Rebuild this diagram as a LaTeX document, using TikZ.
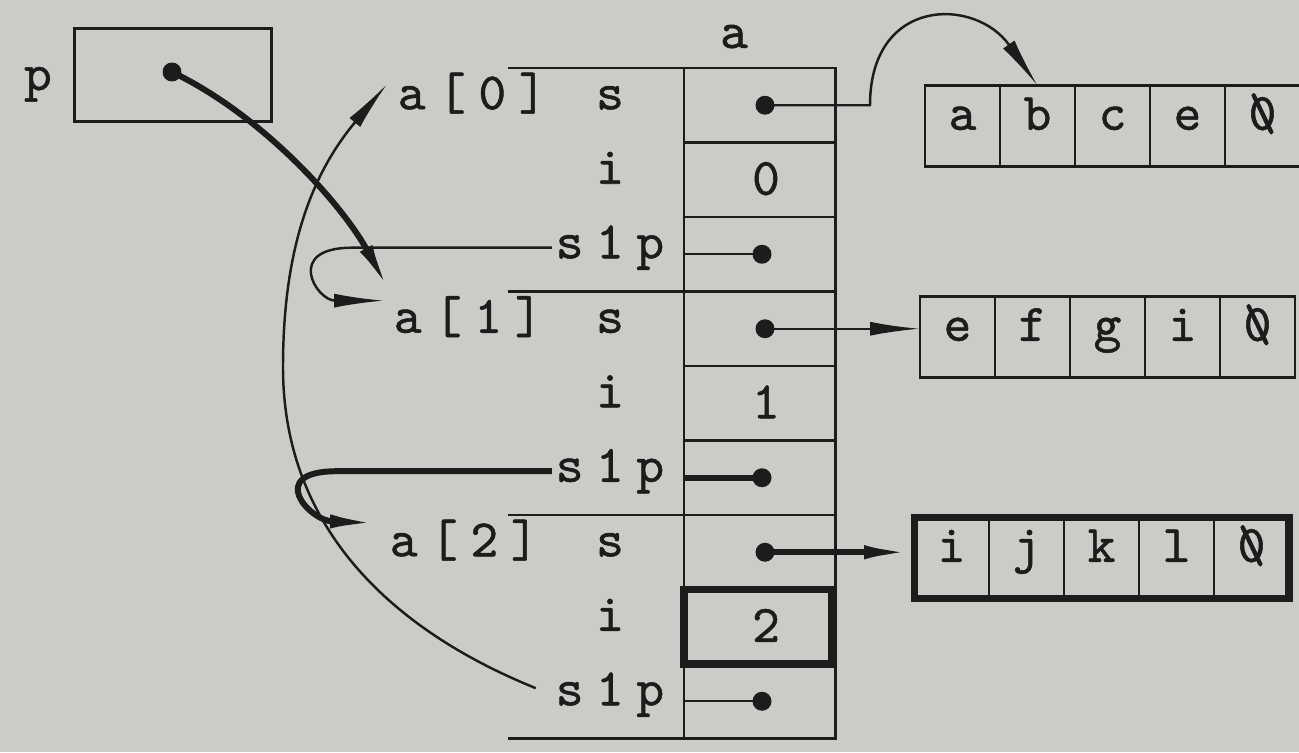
\documentclass[tikz,border=0pt]{standalone}
\usepackage{fontspec}
\usepackage{tikz}
\usetikzlibrary{
  arrows.meta,
  positioning,
  calc
}
\definecolor{papercolor}{RGB}{203, 203, 200}
\definecolor{inkcolor}{RGB}{28, 28, 28}
\newfontfamily\codefont{lmmono10-regular}[Extension=.otf, LetterSpace=24, FakeBold=1]
\newfontfamily\cellfont{lmmono10-regular}[Extension=.otf, FakeBold=1]
\newcommand{\nulchar}{\rlap{\textbackslash}0}
\tikzset{
codetext/.style={
  font=\fontsize{30}{32}\selectfont\codefont,
  text=inkcolor,
  inner sep=2pt
},
fieldlabel/.style={
  codetext,
  anchor=base
},
arraylabel/.style={
  codetext,
  anchor=base west
},
strcell/.style={
  draw=inkcolor,
  line width=1.6pt,
  outer sep=0pt,
  minimum width=1.5cm,
  minimum height=1.62cm,
  text height=1.5ex,
  text depth=0.5ex,
  font=\fontsize{30}{32}\selectfont\cellfont,
  text=inkcolor
},
pbox/.style={
  draw=inkcolor,
  line width=1.4pt,
  minimum width=3.94cm,
  minimum height=1.86cm
},
ptrdot/.style={
  circle,
  fill=inkcolor,
  inner sep=0pt,
  minimum size=0.38cm
},
tableline/.style={
  draw=inkcolor,
  line width=1.7pt
},
thickframe/.style={
  draw=inkcolor,
  line width=4pt
},
ptrline/.style={
  draw=inkcolor,
  line width=1.4pt
},
ptrlinethick/.style={
  ptrline,
  line width=3.4pt
},
ptrthin/.style={
  -{Latex[length=1cm,width=0.28cm]},
  ptrline
},
ptrthick/.style={
  ptrthin,
  line width=3.4pt
}
}
\begin{document}
\begin{tikzpicture}[x=0.02cm, y=0.02cm]
  \def\rowH{74.5}
  \def\topY{684}
  \def\colL{684}
  \def\colR{835}

  \fill[papercolor] (0,0) rectangle (1299,752);
  \useasboundingbox (0,0) rectangle (1299,752);

  % --- p ---
  \node[fieldlabel] (plabel) at (38,662) {p};
  \node[pbox] (pcell) at (173,677) {};
  \node[ptrdot] (pdot) at (172,680) {};

  % --- array a ---
  \node[fieldlabel] (atitle) at (734,704) {a};
  \draw[tableline] (\colL,\topY) rectangle (\colR,\topY-9*\rowH);
  \foreach \k in {1,2,4,5,7,8}
    \draw[tableline] (\colL,\topY-\k*\rowH) -- (\colR,\topY-\k*\rowH);
  \foreach \k in {0,3,6,9}
    \draw[tableline] (508,\topY-\k*\rowH) -- (\colR,\topY-\k*\rowH);
  \draw[thickframe] (\colL,\topY-7*\rowH) rectangle (832,\topY-8*\rowH);
  \coordinate (tabL) at (\colL,\topY);

  \node[arraylabel] (a0) at (394,\topY-0.5*\rowH-4) {a[0]};
  \node[arraylabel] (a1) at (390,\topY-3.5*\rowH-4) {a[1]};
  \node[arraylabel] (a2) at (386,\topY-6.5*\rowH-4) {a[2]};

  \foreach \k/\name/\txt in {1/f1/s, 2/f2/i, 3/f3/s1p, 4/f4/s, 5/f5/i,
                             6/f6/s1p, 7/f7/s, 8/f8/i, 9/f9/s1p}
    \node[fieldlabel] (\name) at (610,\topY-\k*\rowH+0.5*\rowH-4) {\txt};

  \node[fieldlabel] (v2) at (766,\topY-1.5*\rowH-15) {0};
  \node[fieldlabel] (v5) at (766,\topY-4.5*\rowH-15) {1};
  \node[fieldlabel] (v8) at (766,\topY-7.5*\rowH-15) {2};

  \foreach \k in {1,4,7}
    \node[ptrdot] (d\k) at (765,\topY-\k*\rowH+0.5*\rowH) {};
  \foreach \k in {3,6,9}
    \node[ptrdot] (d\k) at (762,\topY-\k*\rowH+0.5*\rowH) {};

  % --- strings ---
  \foreach \ch [count=\n from 0] in {a,b,c,e,\nulchar}
    \node[strcell] (ab\n) at (962.5+75*\n,626) {\ch};
  \foreach \ch [count=\n from 0] in {e,f,g,i,\nulchar}
    \node[strcell] (ef\n) at (957.5+75*\n,415) {\ch};
  \foreach \ch [count=\n from 0] in {i,j,k,l,\nulchar}
    \node[strcell] (ij\n) at (951.5+75*\n,194) {\ch};
  \draw[thickframe] (ij0.north west) rectangle (ij4.south east);

  % --- pointers s ---
  \coordinate (bendA) at (870,\topY-0.5*\rowH);
  \draw[ptrthin] (d1.center) -- (bendA) to[out=90,in=125,looseness=1.65] (ab1.north);
  \draw[ptrthin] (d4.center) -- (d4 -| ef0.west);
  \draw[ptrthick] (d7.center) -- (d7 -| ij0.west);

  % --- pointers s1p ---
  \draw[ptrline] (d3.center) -- (d3 -| tabL);
  \draw[ptrlinethick] (d6.center) -- (d6 -| tabL);
  \draw[ptrline] (d9.center) -- (d9 -| tabL);

  \draw[ptrthin] (f3.west) -- ++(-200,0)
    to[out=180,in=180,looseness=2.8] ($(a1.west)+(-6,16)$);
  \draw[ptrthick] (f6.west) -- ++(-215,0)
    to[out=180,in=178,looseness=2.7] ($(a2.west)+(-6,17)$);
  \coordinate (bendL) at (283,385);
  \draw[ptrthin, shorten <=0.35cm] (f9.west) to[out=158,in=-90] (bendL)
    to[out=90,in=230] ($(a0.west)+(-7,9)$);

  % --- p pointer ---
  \draw[ptrthick] (pdot.center) .. controls (262,637) and (342,548) .. (a1.north west);
\end{tikzpicture}
\end{document}
